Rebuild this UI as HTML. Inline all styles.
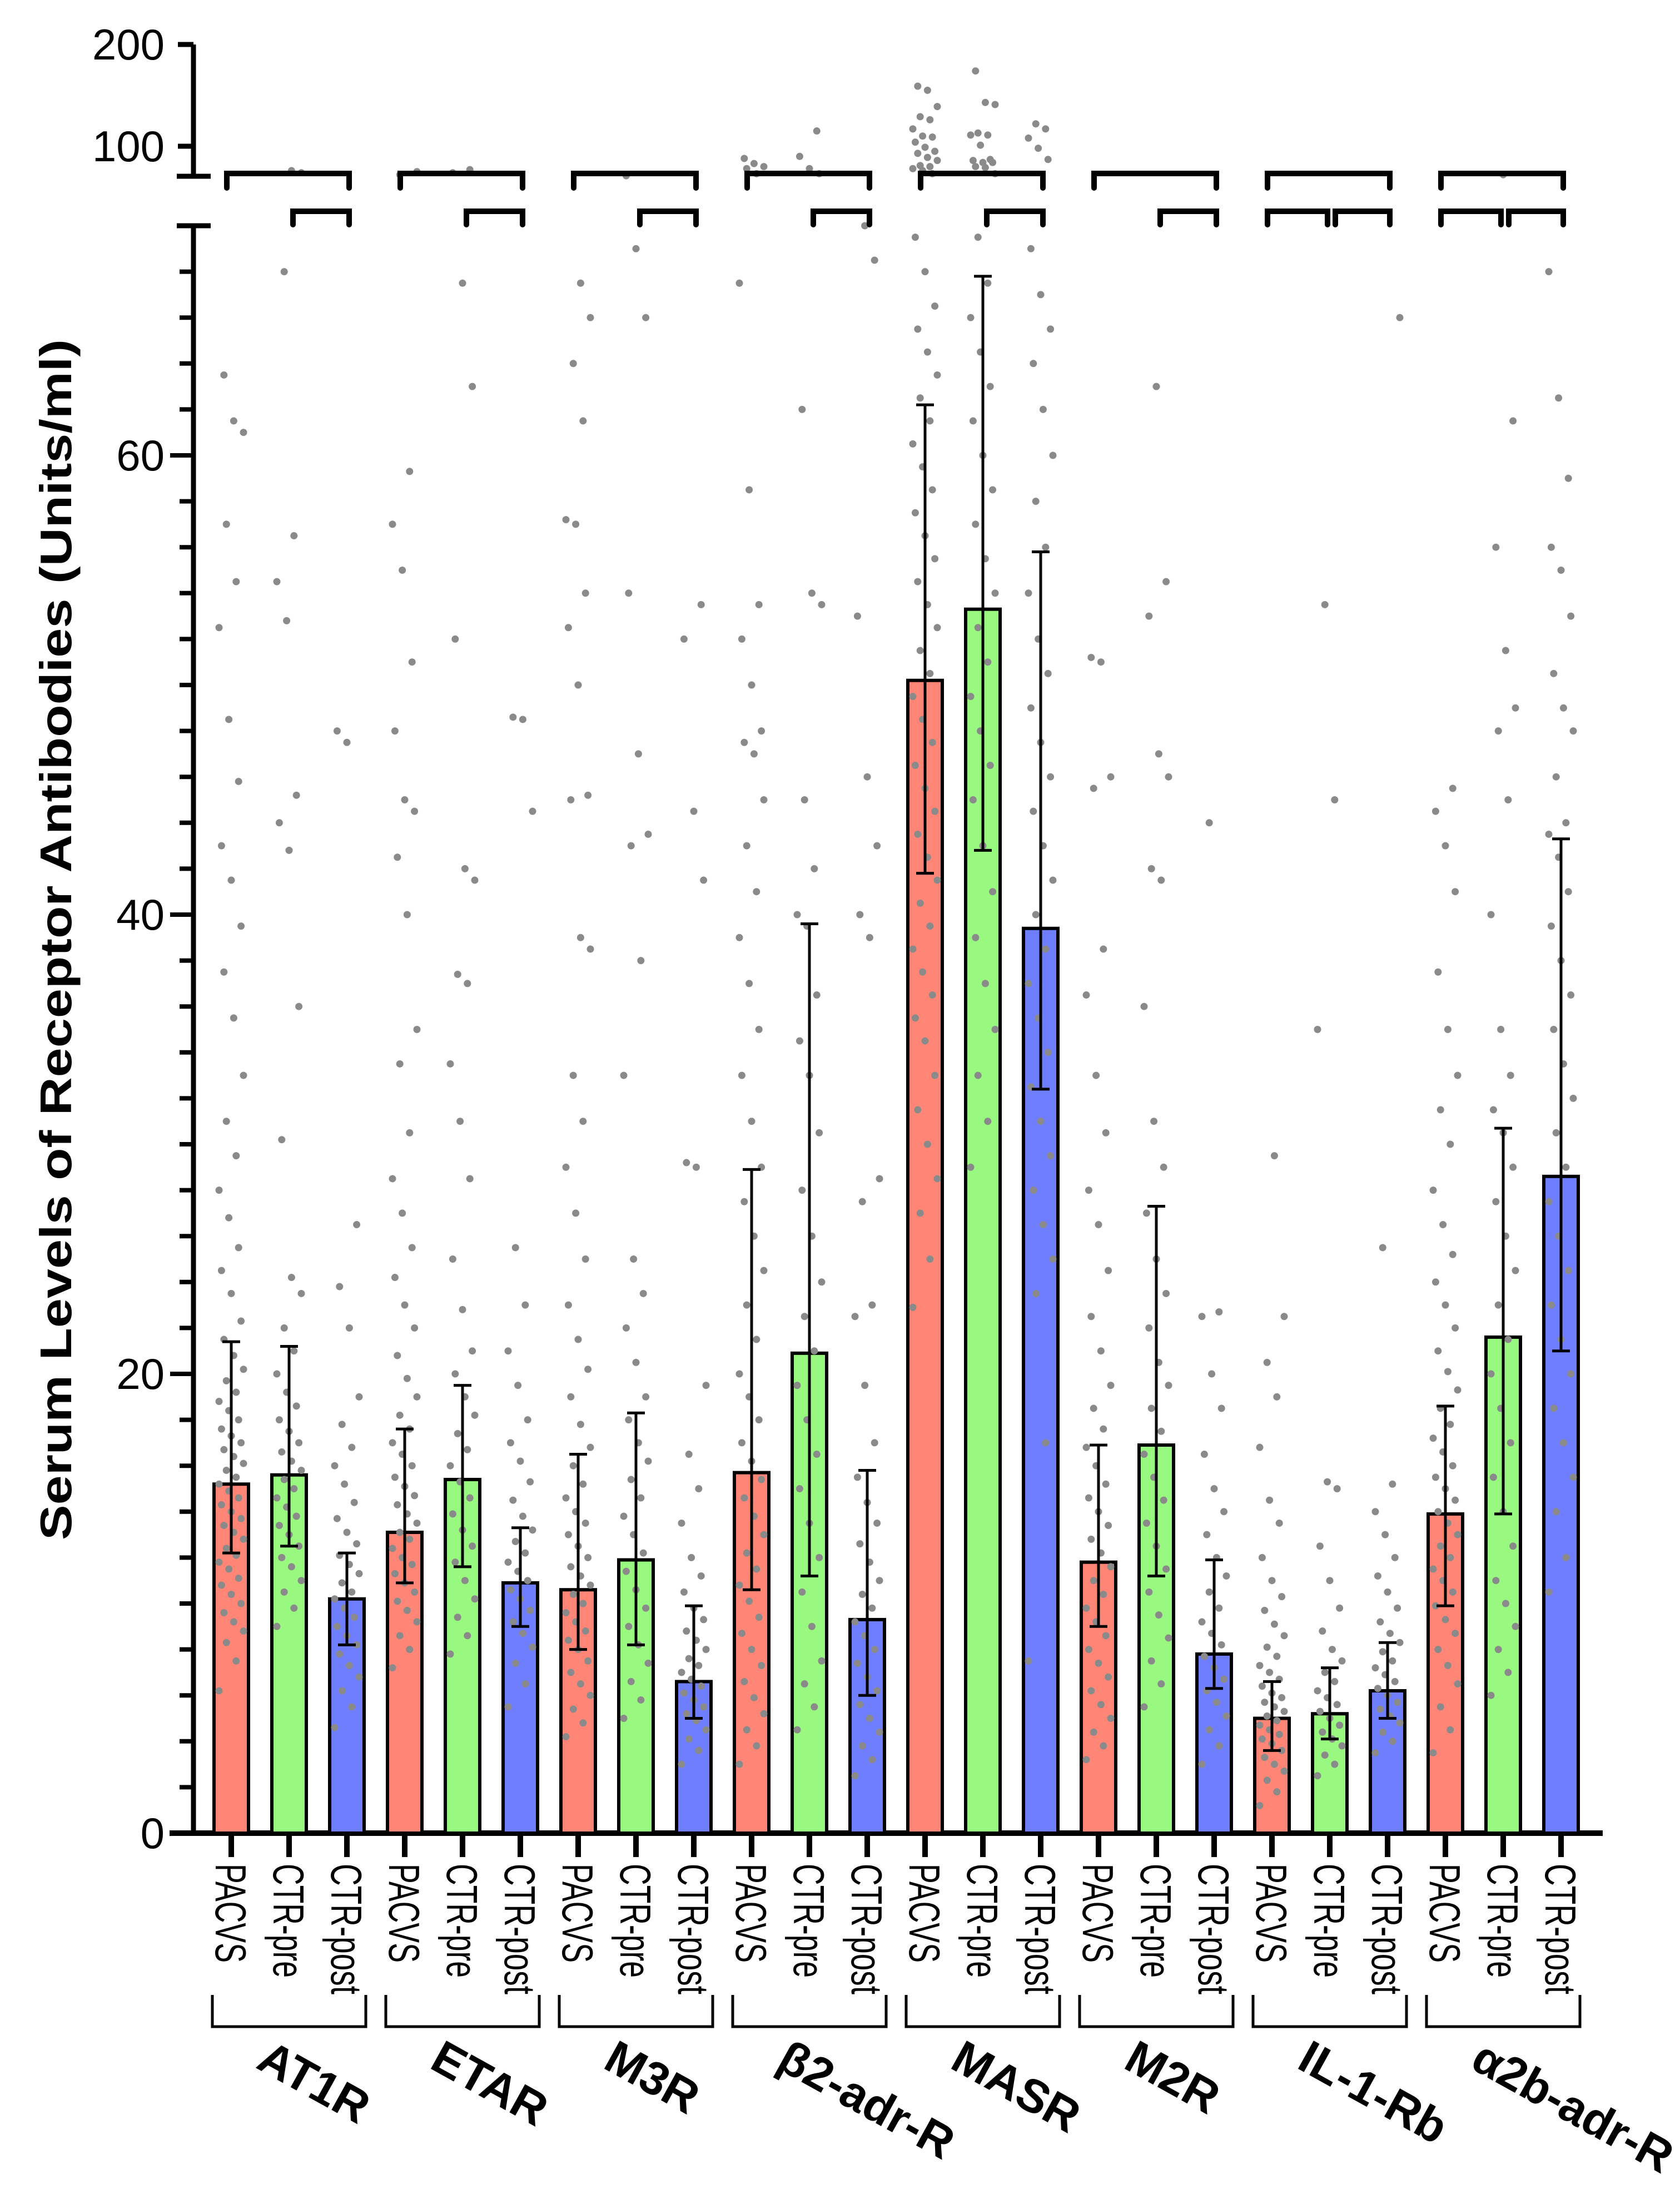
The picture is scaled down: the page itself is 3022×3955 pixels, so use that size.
<!DOCTYPE html>
<html><head><meta charset="utf-8"><title>Receptor antibodies</title>
<style>html,body{margin:0;padding:0;background:#fff}svg{display:block}</style></head>
<body>
<svg id="chart" xmlns="http://www.w3.org/2000/svg" width="3022" height="3955" viewBox="0 0 3022 3955" font-family="Liberation Sans, Arial, sans-serif">
<rect width="3022" height="3955" fill="#fff"/>
<text transform="translate(128,1690) rotate(-90)" text-anchor="middle" font-weight="bold" font-size="80" textLength="2160" lengthAdjust="spacingAndGlyphs">Serum Levels of Receptor Antibodies (Units/ml)</text>
<g id="layer"></g>
</svg>
<script>
const groups = ["AT1R","ETAR","M3R","\u03b22-adr-R","MASR","M2R","IL-1-Rb","\u03b12b-adr-R"];
const conditions = ["PACVS","CTR-pre","CTR-post"];
const means = [15.2,15.6,10.2, 13.1,15.4,10.9, 10.6,11.9,6.6, 15.7,20.9,9.3, 50.2,53.3,39.4, 11.8,16.9,7.8, 5.0,5.2,6.2, 13.9,21.6,28.6];
const errLow = [12.2,12.5,8.2, 10.9,11.6,9.0, 8.0,8.2,5.0, 10.6,11.2,6.0, 41.8,42.8,32.4, 9.0,11.2,6.3, 3.6,4.1,5.0, 9.9,13.9,21.0];
const errHigh = [21.4,21.2,12.2, 17.6,19.5,13.3, 16.5,18.3,9.9, 28.9,39.6,15.8, 62.2,67.8,55.8, 16.9,27.3,11.9, 6.6,7.2,8.3, 18.6,30.7,43.3];
const lowerTicks = [0,20,40,60];
const upperTicks = [100,200];
const pts0 = [6.2,7.5,8.3,8.8,9.2,9.6,10,10.4,10.8,11.1,11.5,11.8,12.1,12.4,12.8,13.1,13.4,13.7,14,14.3,14.6,14.9,15.2,15.5,15.8,16.1,16.4,16.7,17,17.3,17.6,18,18.4,18.8,19.2,19.7,20.2,20.8,21.5,22.3,23.5,24.5,25.5,26.8,28,29.5,31,33,35.5,37.5,39.5,41.5,43,45.8,48.5,52.5,54.5,57,61,61.5,63.5];
const pts1 = [9,9.8,10.5,11,11.6,12,12.5,13,13.4,13.8,14.2,14.6,15,15.4,15.8,16.2,16.6,17,17.5,18,18.6,19.2,20,21,22,23.5,24.2,30.2,36,42.8,44,45.2,52.8,54.5,56.5,68,74,76];
const pts2 = [4.6,5.5,6.2,6.8,7.3,7.8,8.2,8.6,9,9.4,9.8,10.2,10.5,10.9,11.3,11.7,12.1,12.6,13.1,13.7,14.4,15.2,16,16.8,17.8,19,22,23.8,26.5,47.5,48];
const pts3 = [7.2,8,8.6,9.2,9.7,10.1,10.5,10.9,11.3,11.7,12,12.4,12.8,13.1,13.5,13.9,14.3,14.7,15.1,15.5,16,16.5,17,17.6,18.2,19,19.8,20.8,22,23,24.2,25.5,27,28.5,30.5,33.5,35,40,42.5,44.5,45,48,51,55,57,59.3,72,75];
const pts4 = [7.8,8.6,9.4,10.2,11,11.8,12.5,13.2,13.9,14.6,15.3,16,16.7,17.4,18.2,19,20,21,22.8,25,28.5,31,33.5,37,37.4,41.5,42,52,63,67.5,74,77];
const pts5 = [5.5,6.5,7.4,8.1,8.7,9.2,9.7,10.2,10.6,11,11.4,11.8,12.2,12.7,13.2,13.8,14.5,15.3,16.2,17,18,19.5,21,23,25.5,44.5,48.5,48.6];
const pts6 = [4.2,4.8,5.4,6,6.5,7,7.5,8,8.4,8.8,9.2,9.6,10,10.4,10.8,11.2,11.6,12,12.5,13,13.5,14,14.6,15.2,16,16.8,17.8,19,20.2,21.5,23,25,27,29,31,33,38.5,39,45,45.2,50,52.5,54,57,57.2,61.5,64,66,67.5];
const pts7 = [5,5.8,6.6,7.4,8.2,9,9.8,10.6,11.4,12.2,13,13.8,14.6,15.4,16.2,17,18,19,20.5,22,23.5,25,33,38,43,43.5,47,54,66,69,71];
const pts8 = [3,3.6,4.1,4.5,4.9,5.2,5.5,5.8,6.1,6.4,6.7,7,7.3,7.6,8,8.4,8.8,9.3,9.8,10.5,11.2,12,13.5,15,16.5,19.5,29,29.2,41.5,44.5,52,53.5];
const pts9 = [3,3.8,4.5,5.2,5.9,6.6,7.3,8,8.7,9.4,10.1,10.8,11.5,12.2,13,13.8,14.6,15.4,16.2,17,18,19,20,21.5,23,24.5,26,27.5,29,31,33,35,37,39,41,43,45,47,47.5,48,50,52,53.5,58.5,67.5,73,78,80,83,88];
const pts10 = [4.5,5.5,6.5,7.5,9,10.5,12,13.5,15,16.5,18,19.5,21,22.5,24,26,28,30.5,33,34.5,36.5,39.5,40,42,45,53.5,54,62,73,78,90,115];
const pts11 = [2.5,3.2,3.8,4.4,5,5.6,6.2,6.8,7.4,8,8.6,9.2,9.8,10.4,11,11.8,12.6,13.5,14.4,15.5,17,19.5,22.5,23,27.5,28.5,39,40,43,46,53,68.5,70];
const pts12 = [22.9,25,27,28.5,30,31.5,33,34.5,35.5,36.5,37.5,38.5,39.5,40.5,41.5,42.5,43.5,44.5,45.5,46.5,47.5,48.5,49.5,50.5,51.5,52.5,53.5,54.5,55.5,56.5,57.5,58.5,59.5,60.5,61.5,62.5,63.5,64.5,65.5,66.5,68,69.5,73,76,78,80,81,86,89,93,95,99,104,109,110,117,126,129,139,155,159];
const pts13 = [29,31,33,35,37,39,41,43,45,46.5,48,49.5,51,52.5,54,55.5,57,58.5,60,61.5,63,64.5,66,67.5,69.5,73,79,80,84,84,86,87,101,111,111,113,141,143,174];
const pts14 = [7.5,17,23.5,25,26.5,28,29.5,31,32.5,34,35.5,37,38.5,40,41.5,43,44.5,46,47.5,49,50.5,52,54,56,58,60,62,64,65.5,67,69,87,98,108,117,122];
const pts15 = [3.2,3.8,4.4,5,5.6,6.2,6.8,7.4,8,8.6,9.2,9.8,10.4,11,11.6,12.2,12.8,13.4,14,14.6,15.2,16,16.8,17.6,18.5,19.5,21,22.5,24.5,26.5,28,30.5,33,36.5,38.5,45.5,46,51,51.2];
const pts16 = [5.5,6.5,7.5,8.5,9.5,10.5,11.5,12.5,13.5,14.5,15.5,16.5,17.5,18.5,19.5,20.5,22,23.5,25,27,29,31,36,41.5,42,46,47,53,54.5,63];
const pts17 = [3,3.8,4.5,5.1,5.7,6.2,6.7,7.2,7.7,8.2,8.7,9.2,9.8,10.5,11.2,12,13,14,15,16.5,18.5,20,22.5,22.7,44];
const pts18 = [1.2,1.8,2.3,2.7,3,3.3,3.6,3.9,4.1,4.3,4.5,4.7,4.9,5.1,5.3,5.5,5.7,5.9,6.1,6.4,6.7,7,7.3,7.7,8.1,8.6,9.1,9.7,10.3,11,12,13.5,14.5,16.8,19,20.5,22.5,29.5];
const pts19 = [2.5,3,3.4,3.8,4.1,4.4,4.7,5,5.3,5.6,5.9,6.2,6.6,7,7.5,8,8.8,9.8,11,12.5,15,15.3,35,45,53.5];
const pts20 = [3.5,4,4.4,4.8,5.1,5.4,5.7,6,6.3,6.6,6.9,7.2,7.5,7.9,8.3,8.7,9.2,9.8,10.5,11.2,12,13,14,15.2,25.5,66];
const pts21 = [3.5,4.5,5.5,6.5,7.3,8,8.7,9.3,9.9,10.5,11,11.5,12,12.5,13,13.5,14,14.5,15,15.5,16,16.6,17.2,17.8,18.5,19.3,20.1,21,22,23,24,25.2,26.5,28,30,31.5,33,35,37.5,41,43,44.5,45.5];
const pts22 = [6,7,8,9,10,11,12.5,14,15.5,17,18.5,20,21.5,23,24.5,26,27.5,29,30.5,31.5,33,35,40,45,48,49,51.5,56,61.5,72];
const pts23 = [10.5,12,14,15.5,17,18.5,20,21.5,23,24.5,26,27.5,29,30.5,32,33.5,35,36.5,38,39.5,41,42.5,43.5,44,46,48,49,50.5,53,55,56,59,62.5,68];
const points = [pts0,pts1,pts2,pts3,pts4,pts5,pts6,pts7,pts8,pts9,pts10,pts11,pts12,pts13,pts14,pts15,pts16,pts17,pts18,pts19,pts20,pts21,pts22,pts23];

const NS = "http://www.w3.org/2000/svg";
const layer = document.getElementById('layer');
const colors = ["#ff8577","#99f880","#6f7eff"];
const AX = 348, Y0 = 3297, PX = 41.3, TOPLOW = 406;
const X0 = 416, SLOT = 104, BW = 62;
function xPos(i){ return X0 + i*SLOT; }
function yPos(v){ return v <= 70 ? Y0 - v*PX : 263 - (v-100)*1.83; }
function mk(tag, attrs, parent){
  const e = document.createElementNS(NS, tag);
  for (const k in attrs) e.setAttribute(k, attrs[k]);
  (parent||layer).appendChild(e); return e;
}
function line(x1,y1,x2,y2,w){ return mk('line',{x1:x1,y1:y1,x2:x2,y2:y2,stroke:'#000','stroke-width':w}); }

let el = line(AX, TOPLOW, AX, Y0+5, 9);


el = line(AX, 80, AX, 317, 9);


el = line(305, Y0, 2883, Y0, 10);


el = line(318, 317, 379, 317, 9);


el = line(318, TOPLOW, 379, TOPLOW, 9);


for (let v = 2; v < 70; v += 2) {
  const major = v % 20 === 0;
  el = line(major ? 306 : 323, yPos(v), AX, yPos(v), 8);
  
  
}
lowerTicks.forEach(v => {
  if (v === 0) {
    el = line(306, yPos(v), AX, yPos(v), 8);
    
    
  }
  el = mk('text', {x: 296, y: yPos(v)+27, 'text-anchor':'end', 'font-size':78});
  el.textContent = v;
  
  
});
upperTicks.forEach(v => {
  el = line(320, yPos(v), AX, yPos(v), 9);
  
  
  el = mk('text', {x: 296, y: yPos(v)+27, 'text-anchor':'end', 'font-size':78});
  el.textContent = v;
  
  
});

const labelLen = [178, 205, 235];
means.forEach((m, i) => {
  const cx = xPos(i), c = i % 3;
  el = mk('rect', {x: cx-BW/2, y: yPos(m), width: BW, height: Y0 - yPos(m), fill: colors[c], stroke:'#000', 'stroke-width':6});
  
  
  el = line(cx, Y0+5, cx, 3340, 10);
  
  
  el = mk('text', {x:0, y:0, transform:'translate(' + (cx-28) + ',3352) rotate(90)', 'font-size':78, textLength: labelLen[c], lengthAdjust:'spacingAndGlyphs'});
  el.textContent = conditions[c];
  
  
});
points.forEach((arr, i) => {
  const cx = xPos(i);
  arr.forEach((v, k) => {
    const off = (((k*7) % 11) - 5) * 4.4;
    el = mk('circle', {cx: cx + off, cy: yPos(v), r: 6.5, fill: '#8a8a8a'});
    
    
  });
});
means.forEach((m, i) => {
  const cx = xPos(i);
  el = line(cx, yPos(errHigh[i]), cx, yPos(errLow[i]), 5);
  
  
  el = line(cx-16, yPos(errHigh[i]), cx+16, yPos(errHigh[i]), 5);
  
  
  el = line(cx-16, yPos(errLow[i]), cx+16, yPos(errLow[i]), 5);
  
  
});
function bracket(x1, x2, y, leg){
  return mk('path', {d: 'M'+x1+','+(y+leg)+' L'+x1+','+y+' L'+x2+','+y+' L'+x2+','+(y+leg), fill:'none', stroke:'#000', 'stroke-width':10, 'stroke-linecap':'round'});
}
groups.forEach((g, gi) => {
  const a = xPos(gi*3), b = xPos(gi*3+1), c = xPos(gi*3+2);
  el = bracket(a-8, c+4, 312, 26);
  
  
  if (gi < 6) {
    el = bracket(b+7, c+4, 380, 24);
    
    
  } else {
    el = bracket(a-8, b-4, 380, 24);
    
    
    el = bracket(b+10, c+4, 380, 24);
    
    
  }
  el = mk('path', {d: 'M'+(a-34)+',3588 L'+(a-34)+',3645 L'+(c+34)+',3645 L'+(c+34)+',3588', fill:'none', stroke:'#000', 'stroke-width':5});
  
  
  el = mk('text', {x:0, y:0, transform:'translate(' + (b-62) + ',3718) rotate(29)', 'font-size':84, 'font-weight':'bold'});
  el.textContent = g;
  
  
});
</script>
</body></html>
